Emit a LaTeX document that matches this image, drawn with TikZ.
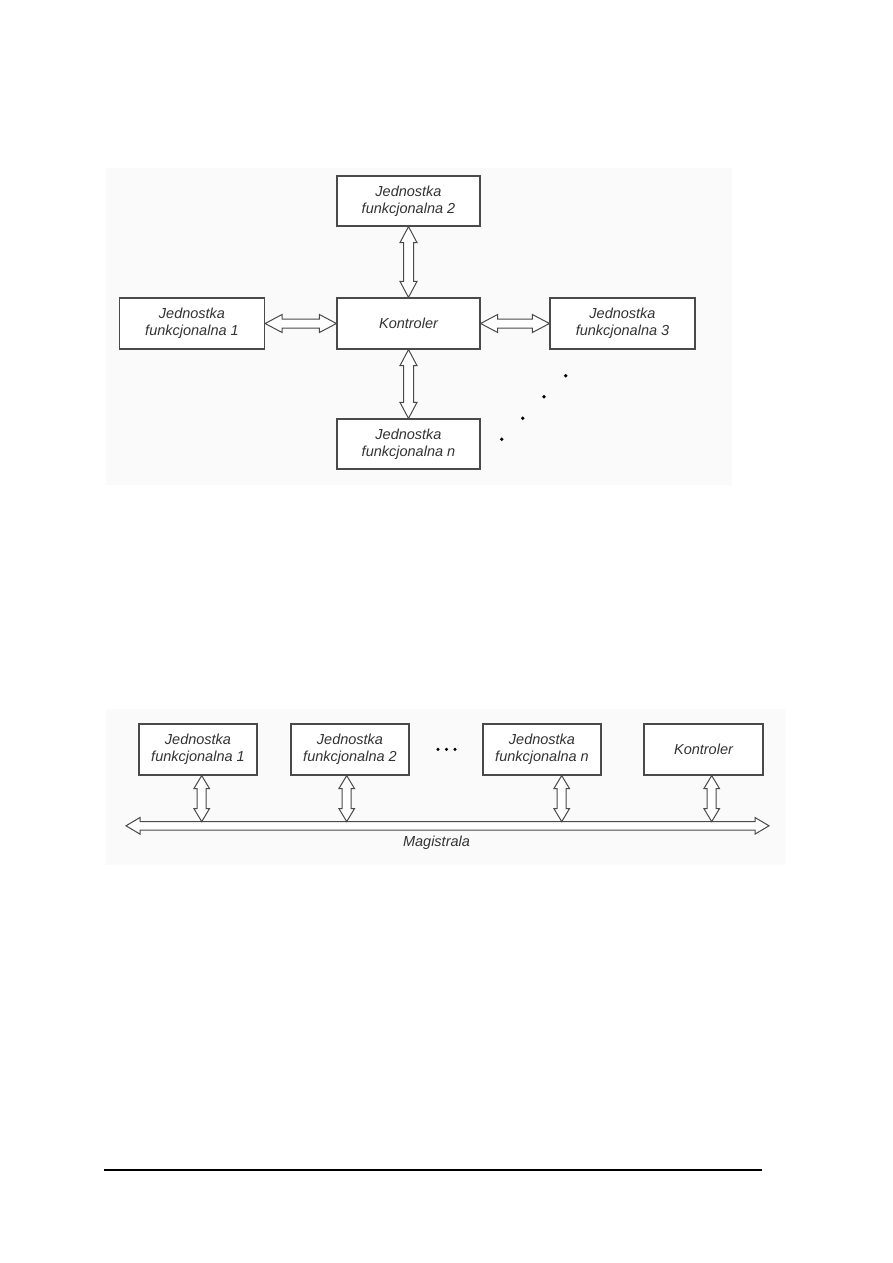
\documentclass[tikz,border=0pt]{standalone}
\usepackage{fontspec}
\newfontfamily\lsans{Liberation Sans}
\usetikzlibrary{calc}
\definecolor{boxgray}{HTML}{4A4A4A}
\definecolor{txtgray}{HTML}{333333}
\definecolor{bggray}{HTML}{FAFAFA}
\newcommand\dblarrow[5]{%
  \draw[arrowline] (#1) -- ($(#1)!#3!(#2)!#4!90:(#2)$) -- ($(#1)!#3!(#2)!#5!90:(#2)$)
   -- ($(#2)!#3!(#1)!#5!-90:(#1)$) -- ($(#2)!#3!(#1)!#4!-90:(#1)$) -- (#2)
   -- ($(#2)!#3!(#1)!#4!90:(#1)$) -- ($(#2)!#3!(#1)!#5!90:(#1)$)
   -- ($(#1)!#3!(#2)!#5!-90:(#2)$) -- ($(#1)!#3!(#2)!#4!-90:(#2)$) -- cycle;}
\begin{document}
\begin{tikzpicture}[x=1pt,y=-1pt,
  box/.style={draw=boxgray, line width=1.2pt, fill=white, inner sep=0pt,
    minimum width=143pt, minimum height=50pt, align=center, text=txtgray,
    font=\lsans\itshape\fontsize{14.5}{17}\selectfont},
  arrowline/.style={draw=boxgray, line width=1pt, fill=white, line join=miter},
  dotmark/.style={fill=black, draw=none}]
\fill[white] (0,0) rectangle (893,1263);
\useasboundingbox (0,0) rectangle (893,1263);
% backgrounds
\fill[bggray] (106,168) rectangle (732,485);
\fill[bggray] (106,709) rectangle (785,865);

% ---------- top diagram ----------
\node[box] (b2) at (408.5,201) {Jednostka\\funkcjonalna 2};
\node[box, minimum height=51pt] (k) at (408.5,323.5) {Kontroler};
\node[box, minimum width=145pt, minimum height=51pt] (b1) at (192,323.5) {Jednostka\\funkcjonalna 1};
\node[box, minimum width=145pt, minimum height=51pt] (b3) at (622.5,323.5) {Jednostka\\funkcjonalna 3};
\node[box] (bn) at (408.5,444) {Jednostka\\funkcjonalna n};

\dblarrow{b2.south}{k.north}{16pt}{8.5pt}{5pt}
\dblarrow{k.south}{bn.north}{16pt}{8.5pt}{5pt}
\dblarrow{b1.east}{k.west}{17pt}{9pt}{4.5pt}
\dblarrow{k.east}{b3.west}{17pt}{9pt}{4.5pt}

\fill[dotmark] (565.7,375.7) circle (1.9);
\fill[dotmark] (544,396.7) circle (1.9);
\fill[dotmark] (522.7,418.3) circle (1.9);
\fill[dotmark] (501.7,439.3) circle (1.9);

% ---------- bottom diagram ----------
\node[box, minimum width=118pt, minimum height=51pt] (c1) at (198,749.5) {Jednostka\\funkcjonalna 1};
\node[box, minimum width=118pt, minimum height=51pt] (c2) at (350,749.5) {Jednostka\\funkcjonalna 2};
\node[box, minimum width=118pt, minimum height=51pt] (cn) at (542,749.5) {Jednostka\\funkcjonalna n};
\node[box, minimum width=119pt, minimum height=51pt] (ck) at (703.5,749.5) {Kontroler};

\fill[dotmark] (438,749.3) circle (1.7);
\fill[dotmark] (446.5,749.3) circle (1.7);
\fill[dotmark] (455,749.3) circle (1.7);

\coordinate (busL) at (126,825.8);
\coordinate (busR) at (769,825.8);
\coordinate (bustop) at (0,821.6);
\dblarrow{busL}{busR}{14pt}{8.3pt}{4.2pt}

\coordinate (a1t) at ([xshift=3.7pt]c1.south);
\coordinate (a2t) at ([xshift=-3.3pt]c2.south);
\coordinate (ant) at ([xshift=19.7pt]cn.south);
\coordinate (akt) at ([xshift=8.2pt]ck.south);
\coordinate (a1b) at (a1t |- bustop);
\coordinate (a2b) at (a2t |- bustop);
\coordinate (anb) at (ant |- bustop);
\coordinate (akb) at (akt |- bustop);
\dblarrow{a1t}{a1b}{13pt}{7.8pt}{4.5pt}
\dblarrow{a2t}{a2b}{13pt}{7.8pt}{4.5pt}
\dblarrow{ant}{anb}{13pt}{7.8pt}{4.5pt}
\dblarrow{akt}{akb}{13pt}{7.8pt}{4.5pt}

\node[text=txtgray, font=\lsans\itshape\fontsize{14.5}{17}\selectfont] (mag) at (436.5,843) {Magistrala};

% footer rule
\coordinate (fl) at (104,1170);
\coordinate (fr) at (762,1170);
\draw[black, line width=1.3pt] (fl) -- (fr);
\end{tikzpicture}
\end{document}
